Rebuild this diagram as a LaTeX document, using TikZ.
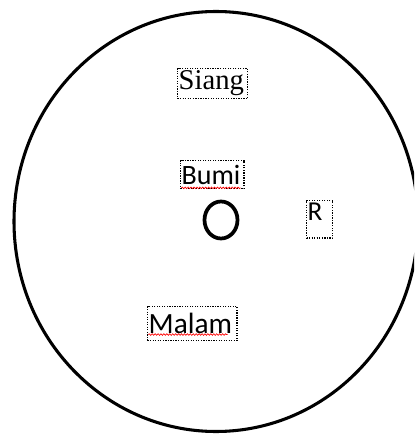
\documentclass[tikz,border=0pt]{standalone}
\usepackage{fontspec}
\setmainfont{Liberation Serif}
\newfontfamily\calibri{Carlito}
\usetikzlibrary{decorations.pathmorphing}
\tikzset{
  label box/.style={draw, densely dotted, line width=0.9pt, inner sep=0.8pt, anchor=north west},
  spell mark/.style={red, line width=0.5pt, decorate, decoration={snake, amplitude=0.6pt, segment length=2.2pt}},
}

\begin{document}
\begin{tikzpicture}[x=0.75pt, y=-0.75pt]
            \useasboundingbox (0,0) rectangle (414,434);
            \clip (0,0) rectangle (414,434);
            \coordinate (O)     at (216,221.5);
            \coordinate (earth) at (221,220);

            \draw[line width=2.3pt] (O) ellipse [x radius=202, y radius=210];% orbit
            \draw[line width=2.8pt] (earth) ellipse [x radius=16.5, y radius=18.5];% earth

            \node[label box, text width=51pt, minimum height=22.5pt, font=\fontsize{21.5}{23}\selectfont] (Siang) at (177,68) {Siang};
            \node[label box, text width=46pt, minimum height=21pt, font=\calibri\fontsize{21}{23}\selectfont] (Bumi) at (180,160) {Bumi};
            \node[label box, text width=18pt, text height=14pt, text depth=12.5pt, font=\calibri\fontsize{20.5}{22}\selectfont] (R) at (306,200) {R};
            \node[label box, text width=65.5pt, minimum height=25.5pt, font=\calibri\fontsize{22}{24}\selectfont] (Malam) at (147,306) {Malam};

            \draw[spell mark] ([xshift=1pt,yshift=1pt]Bumi.south west) -- ([xshift=-3pt,yshift=1pt]Bumi.south east);
            \draw[spell mark] ([xshift=1pt,yshift=5pt]Malam.south west) -- ([xshift=-7.5pt,yshift=5pt]Malam.south east);
        \end{tikzpicture}
\end{document}
